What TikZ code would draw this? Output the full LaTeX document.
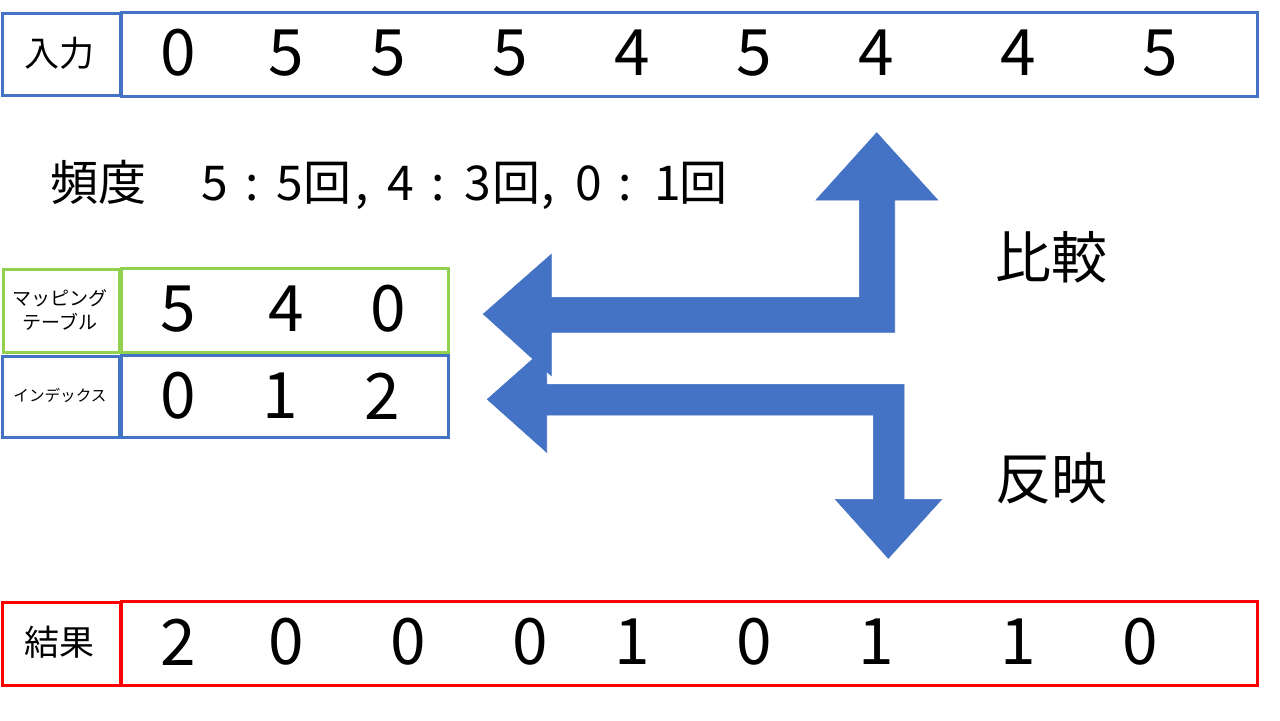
\documentclass[tikz,border=0pt]{standalone}
\usepackage{fontspec}
\setmainfont{Noto Sans CJK JP}
\definecolor{cblue}{HTML}{4472C4}
\definecolor{cgreen}{HTML}{92D050}
\definecolor{cred}{HTML}{FF0000}
\newcommand\pc[2]{\rlap{\hspace{#1pt}\makebox[0pt]{#2}}}
\tikzset{
  cell/.style={draw, line width=1.5pt, inner sep=0pt, anchor=north west},
  dig/.style={font=\fontsize{32}{36}\selectfont, inner sep=0pt},
  lab/.style={font=\fontsize{17.5}{20}\selectfont, inner sep=0pt},
  big/.style={font=\fontsize{28}{32}\selectfont, inner sep=0pt},
  bigarrow/.style={fill=cblue, draw=cblue, line width=0.3pt},
}
\begin{document}
\begin{tikzpicture}[x=0.5pt,y=-0.5pt]
\useasboundingbox (0,0) rectangle (1280,720);
% boxes
\node[cell, draw=cblue, minimum width=59pt, minimum height=41pt] (inlab) at (1,12) {};
\node[cell, draw=cblue, minimum width=568pt, minimum height=42pt] (inbox) at (120,11) {};
\node[cell, draw=cgreen, minimum width=58pt, minimum height=41.5pt] (maplab) at (2,268) {};
\node[cell, draw=cgreen, minimum width=163.5pt, minimum height=42pt] (mapbox) at (120,267) {};
\node[cell, draw=cblue, minimum width=58.5pt, minimum height=40.5pt] (idxlab) at (1,355) {};
\node[cell, draw=cblue, minimum width=163.5pt, minimum height=41pt] (idxbox) at (120,354) {};
\node[cell, draw=cred, minimum width=59pt, minimum height=41.5pt] (reslab) at (1,601) {};
\node[cell, draw=cred, minimum width=568pt, minimum height=42pt] (resbox) at (120,600) {};
% labels
\node[lab] (tin) at (60,53) {入力};
\node[lab] (tres) at (60,642) {結果};
\node[inner sep=0pt, align=center, font=\fontsize{9.5}{12}\selectfont] (tmap) at (60,310) {マッピング\\テーブル};
\node[inner sep=0pt, font=\fontsize{7.8}{9}\selectfont] (tidx) at (60,395) {インデックス};
% input digits
\foreach \x/\d [count=\i] in {178/0,286/5,388/5,510/5,632/4,754/5,876/4,1018/4,1160/5}
  \node[dig] (in\i) at (\x,53) {\d};
% result digits
\foreach \x/\d [count=\i] in {178/2,286/0,408/0,530/0,632/1,754/0,876/1,1018/1,1140/0}
  \node[dig] (res\i) at (\x,642) {\d};
% mapping
\foreach \x/\d [count=\i] in {178/5,286/4,388/0}
  \node[dig] (map\i) at (\x,309) {\d};
\foreach \x/\d [count=\i] in {178/0,280/1,382/2}
  \node[dig] (idx\i) at (\x,396) {\d};
% frequency
\node[inner sep=0pt, anchor=west, font=\fontsize{24}{27}\selectfont] (freq) at (50,185) {頻度\pc{34}{5}\pc{53}{:}\pc{71.5}{5}\pc{90.5}{回}\pc{108}{,}\pc{127}{4}\pc{146}{:}\pc{165.5}{3}\pc{185}{回}\pc{201}{,}\pc{221}{0}\pc{239.5}{:}\pc{260.5}{1}\pc{278.5}{回}\hspace{288pt}};
% arrows
\path[bigarrow] (551.3,297.3) -- (859.3,297.3) -- (859.3,200) -- (816,200) -- (876.7,132.7) -- (937.7,200) -- (894.7,200) -- (894.7,332.3) -- (551.3,332.3) -- (551.3,375.7) -- (483.3,314) -- (551.3,254.3) -- cycle;
\path[bigarrow] (546.7,384.3) -- (904,384.3) -- (904,499.3) -- (941.7,499.3) -- (888.3,558.3) -- (835.3,499.3) -- (873.3,499.3) -- (873.3,415) -- (546.7,415) -- (546.7,452.3) -- (487.3,399.3) -- (546.7,346.7) -- cycle;
\node[big] (cmp) at (1051,257) {比較};
\node[big] (refl) at (1051,478) {反映};
\end{tikzpicture}
\end{document}
